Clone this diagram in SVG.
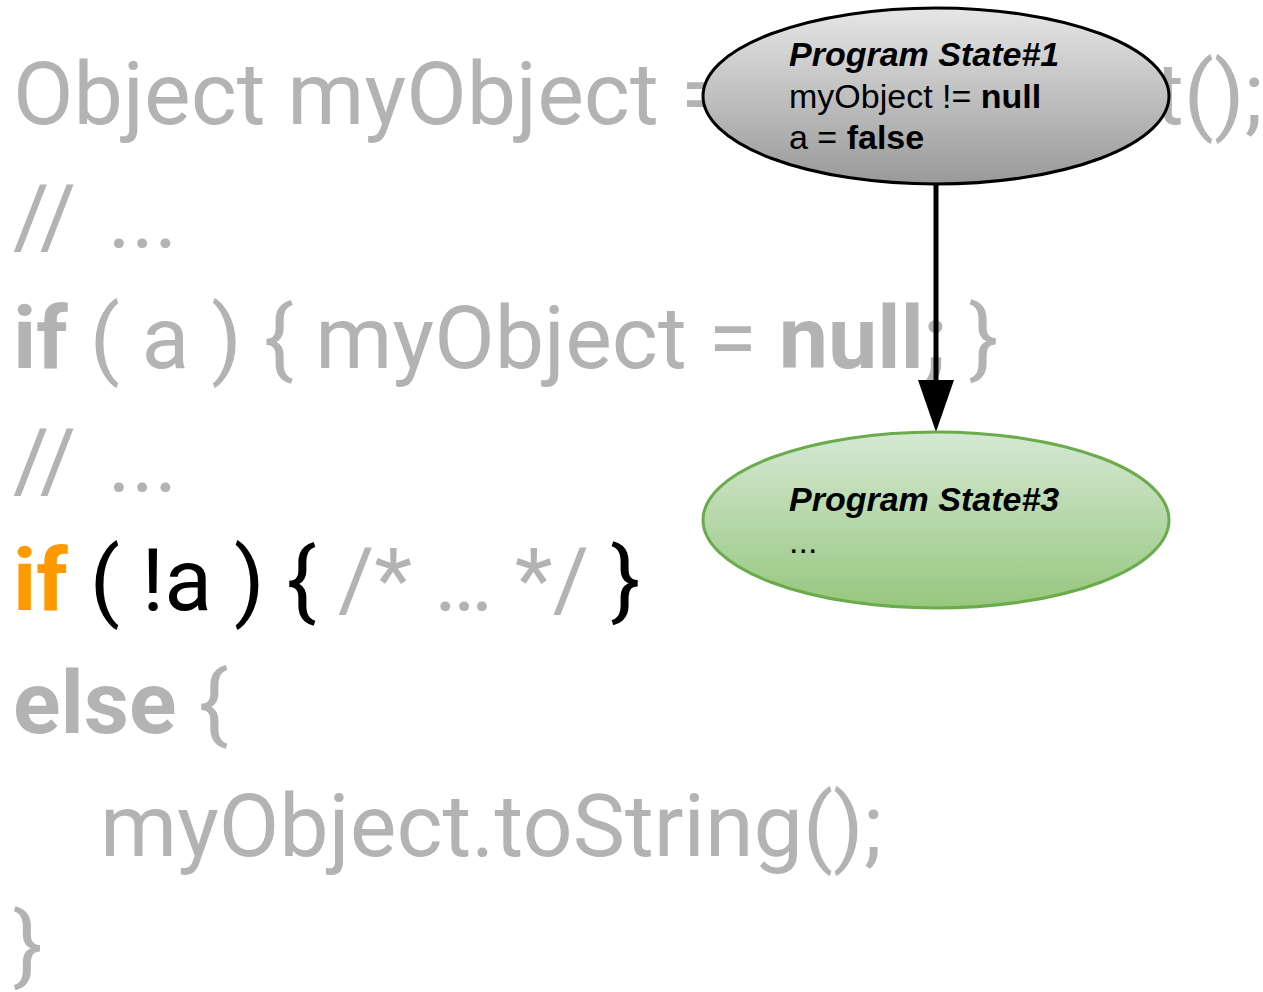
<svg xmlns="http://www.w3.org/2000/svg" width="1263" height="992" viewBox="0 0 1263 992">
<defs>
<linearGradient id="gGray" x1="0" y1="0" x2="0" y2="1">
<stop offset="0" stop-color="#e6e6e6"/>
<stop offset="1" stop-color="#999999"/>
</linearGradient>
<linearGradient id="gGreen" x1="0" y1="0" x2="0" y2="1">
<stop offset="0" stop-color="#d5e8d4"/>
<stop offset="1" stop-color="#97c77e"/>
</linearGradient>
<style>
.code{font-family:Roboto,"Liberation Sans",sans-serif;font-size:88px;fill:#b3b3b3}
.b{font-weight:bold}
.k{fill:#000}
.o{fill:#ff9900}
.lbl{font-family:"Liberation Sans",Arial,sans-serif;font-size:34px;fill:#000}
.bi{font-weight:bold;font-style:italic}
</style>
</defs>
<rect width="1263" height="992" fill="#fff"/>
<g id="code">
<text class="code" x="13" y="124">Object myObject =</text>
<text class="code" x="1155" y="124">t();</text>
<text class="code" x="13" y="247">//<tspan dx="10"> ...</tspan></text>
<text class="code" x="13" y="368"><tspan class="b">if</tspan> ( a ) { myObject = <tspan class="b">null;</tspan> }</text>
<text class="code" x="13" y="491">//<tspan dx="10"> ...</tspan></text>
<text class="code" x="13" y="610"><tspan class="b o">if</tspan><tspan class="k"> ( !a ) { </tspan>/* … */ <tspan class="k">}</tspan></text>
<text class="code" x="13" y="733"><tspan class="b">else</tspan> {</text>
<text class="code" x="100" y="856">myObject.toString();</text>
<text class="code" x="13" y="975">}</text>
</g>
<g id="connectors">
<line x1="936" y1="184" x2="936" y2="384" stroke="#000" stroke-width="5"/>
<polygon points="918,380 954,380 936,432" fill="#000"/>
</g>
<g id="state1">
<ellipse cx="936" cy="96" rx="233" ry="88" fill="url(#gGray)" stroke="#000" stroke-width="3"/>
<text class="lbl" x="789" y="66"><tspan class="bi">Program State#1</tspan></text>
<text class="lbl" x="789" y="108">myObject != <tspan class="b">null</tspan></text>
<text class="lbl" x="789" y="149">a = <tspan class="b">false</tspan></text>
</g>
<g id="state3">
<ellipse cx="936" cy="520" rx="233" ry="88" fill="url(#gGreen)" stroke="#6aab4c" stroke-width="3"/>
<text class="lbl" x="789" y="511"><tspan class="bi">Program State#3</tspan></text>
<text class="lbl" x="789" y="553">...</text>
</g>
</svg>
